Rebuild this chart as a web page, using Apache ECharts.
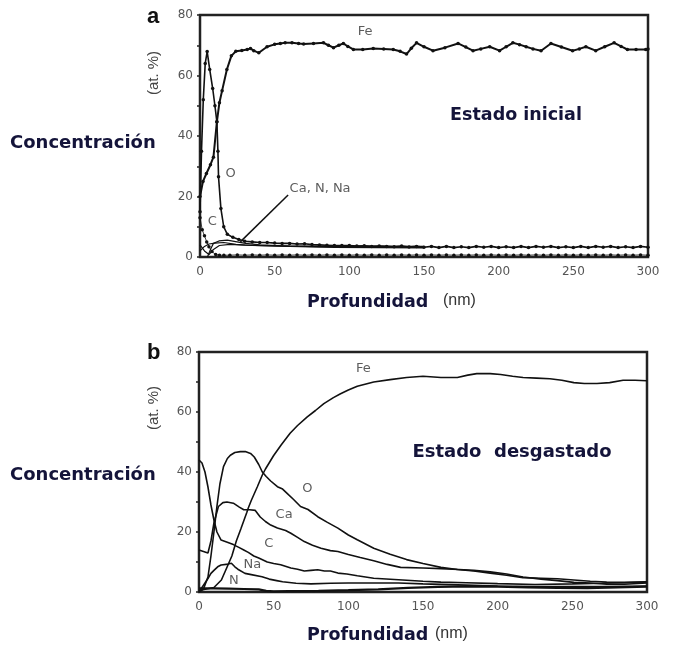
<!DOCTYPE html>
<html><head><meta charset="utf-8">
<script src="https://cdn.jsdelivr.net/npm/echarts@6/dist/echarts.min.js"></script>
<style>html,body{margin:0;padding:0;background:#fff}#c{width:673px;height:651px}</style>
</head><body><div id="c"></div>
<script>
// ---- Panel a : Estado inicial ----
const feA = [[0,20],[2,25],[4.3,27.6],[7,30.5],[9,33],[11.3,44.7],[13,51],[14.8,55],[18,62],[21,66.5],[24,68],[28,68.3],[31.6,68.6],[33.8,68.9],[36,68.2],[39.4,67.5],[44.9,69.5],[50,70.3],[53.8,70.6],[57,70.8],[61.6,70.8],[66,70.6],[69.4,70.4],[76,70.6],[82.7,70.8],[86,70],[89.4,69.2],[93,70],[96,70.6],[99,69.6],[102.7,68.6],[109,68.6],[116,68.9],[123,68.8],[129.4,68.6],[134,68],[138.3,67.1],[141.5,69],[145,70.8],[150,69.5],[156,68.2],[164,69.2],[172.8,70.6],[178,69.4],[182.8,68.2],[188,68.8],[194,69.5],[200.6,68.2],[205,69.5],[209.5,70.8],[214,70.2],[218.4,69.5],[223,68.8],[228.4,68.2],[235,70.6],[242,69.4],[249.5,68.2],[254,68.8],[258.4,69.5],[265,68.2],[271,69.5],[277.3,70.8],[282,69.6],[286.2,68.6],[292,68.6],[298.5,68.6],[300,68.8]];
const oA = [[0,15],[1,35],[2.2,52],[3.5,64],[4.8,67.9],[6.5,62],[8.5,55.7],[10,50],[11.3,44.7],[12,35],[12.4,26.5],[14,16],[15.9,10],[18.3,7.5],[22,6.5],[26,5.8],[30,5.2],[35,5],[40,4.8],[45,4.8],[50,4.6],[55,4.5],[60,4.5],[65,4.3],[70,4.4],[75,4.1],[80,4],[85,3.9],[90,3.8],[95,3.8],[100,3.8],[105,3.6],[110,3.7],[115,3.5],[120,3.6],[125,3.5],[130,3.4],[135,3.6],[140,3.3],[145,3.5],[150,3.2],[155,3.5],[160,3.1],[165,3.5],[170,3.1],[175,3.4],[180,3.1],[185,3.5],[190,3.2],[195,3.5],[200,3.1],[205,3.4],[210,3.1],[215,3.5],[220,3.1],[225,3.5],[230,3.2],[235,3.5],[240,3.1],[245,3.4],[250,3.1],[255,3.5],[260,3.1],[265,3.5],[270,3.2],[275,3.5],[280,3.1],[285,3.4],[290,3.1],[295,3.5],[300,3.2]];
const cA = [[0,13],[1.5,9],[3,7],[4.5,5],[6,3.4],[8,1.8],[10.5,0.8],[13,0.6],[16,0.6],[20,0.6],[25,0.7],[30,0.6],[35,0.7],[40,0.6],[45,0.7],[50,0.6],[55,0.7],[60,0.6],[65,0.7],[70,0.6],[75,0.7],[80,0.6],[85,0.7],[90,0.6],[95,0.7],[100,0.6],[105,0.7],[110,0.6],[115,0.7],[120,0.6],[125,0.7],[130,0.6],[135,0.7],[140,0.6],[145,0.7],[150,0.6],[155,0.7],[160,0.6],[165,0.7],[170,0.6],[175,0.7],[180,0.6],[185,0.7],[190,0.6],[195,0.7],[200,0.6],[205,0.7],[210,0.6],[215,0.7],[220,0.6],[225,0.7],[230,0.6],[235,0.7],[240,0.6],[245,0.7],[250,0.6],[255,0.7],[260,0.6],[265,0.7],[270,0.6],[275,0.7],[280,0.6],[285,0.7],[290,0.6],[295,0.7],[300,0.6]];
const caA = [[5,0],[7,2.5],[9,4.5],[12.7,5.3],[18.3,5.6],[23.8,5.1],[30.5,4.5],[40,4],[60,3.6],[80,3.4],[100,3.5],[120,3.3],[150,3.2]];
const nA = [[0,4],[3,2],[6,0.8],[9,2.5],[13,3.8],[20,4.2],[30,3.9],[50,3.7],[80,3.6],[110,3.6],[150,3.5]];
const naA = [[0,2],[3,3.5],[6,4.3],[10,4.6],[16,4.8],[24,4.2],[35,3.8],[60,3.5],[90,3.2],[120,3.1],[150,3]];
const pointerA = [[59,20.5],[27,5]];
const labelsA = [{name:'Fe',value:[110.5,74.5]},{name:'O',value:[20.5,27.6]},{name:'C',value:[8.2,11.6]}];
const labelCaNNa = {name:'Ca, N, Na',value:[60,22.6]};

// ---- Panel b : Estado desgastado ----
const feB = [[0,0.5],[5,1],[10,1.5],[15,4],[19.4,9],[22,12],[25,17],[28,21],[32,26.5],[33,28],[35,30.5],[39,35],[42.4,39],[44.5,41],[50,45.5],[55,49],[61,52.9],[66,55.5],[72.5,58.4],[78,60.5],[83.6,62.8],[90,64.8],[94.8,66.1],[100,67.3],[106,68.6],[117,70],[128,70.8],[139,71.5],[150,71.9],[162,71.5],[173,71.5],[180,72.3],[186,72.8],[195,72.8],[202,72.5],[210,71.9],[217,71.5],[226,71.3],[235,71.1],[243,70.6],[251,69.8],[258,69.5],[266.5,69.5],[275,69.8],[284,70.6],[292,70.6],[300,70.4]];
const oB = [[0,0],[3,1],[6,5],[8,12],[10,20],[12,28.5],[14,36],[16.4,41.8],[19,44.5],[21,45.6],[24,46.5],[27.7,46.8],[31,46.8],[34.5,46.2],[37,45],[40,42.5],[42.4,40],[45,38.5],[48,37],[52.5,35.1],[56,34.3],[59,32.9],[63,31],[68,28.5],[73,27.5],[79.5,25.1],[86,23.2],[93,21.3],[100,19],[106,17.4],[117,14.6],[128,12.6],[139,10.8],[150,9.5],[162,8.2],[173,7.5],[184,7],[195,6.3],[206,5.6],[217,4.8],[229,4.6],[240,4.4],[251,4],[262,3.6],[273,3.3],[285,3.2],[300,3.4]];
const caB = [[0,14],[3,13.5],[6,13],[8,17],[10,23],[13,28.5],[16,29.8],[18.7,30],[23,29.6],[27,28.3],[30,27.4],[34,27.4],[37.7,27.2],[41,25],[44.5,23.5],[48,22.3],[52.5,21.3],[58,20.5],[61.5,19.6],[66,18.2],[70.5,16.8],[76,15.6],[81.7,14.6],[88,13.8],[93,13.5],[100,12.5],[108,11.5],[117,10.4],[126,9.2],[135,8.2],[150,8],[162,7.8],[174,7.5],[184,7.2],[195,6.7],[206,6],[217,5],[229,4.3],[240,3.8],[251,3.2],[262,3],[273,2.6],[285,2.6],[300,3]];
const cB = [[0,44],[2,43],[4,40],[6,35],[8,29],[10,24],[12,20],[14.8,17.3],[19.4,16.5],[23,15.8],[27,14.8],[30,14],[33,13.2],[36.7,12],[40,11.3],[45.7,10],[50,9.5],[54.7,9.1],[61.5,8],[66,7.6],[70.5,7],[75,7.2],[79.5,7.4],[84,7],[88,7],[93,6.3],[99,6],[106,5.4],[117,4.6],[133.6,4.1],[150,3.6],[162,3.3],[179,3.1],[200,2.8],[225,2.5],[250,2.7],[270,2.9],[285,3.1],[300,3.3]];
const naB = [[0,0],[2,1.5],[4,3],[6,4.5],[8,6.2],[10,7.2],[12.5,8.4],[14.8,9],[19.4,9.3],[21.7,9.6],[24,8.4],[26,7.6],[30.8,6.2],[35,5.8],[42.2,5.1],[47,4.3],[52,3.8],[56,3.4],[65,2.9],[75,2.7],[88,2.9],[100,3],[115,3],[133.6,3],[150,2.7],[179,2.3],[200,2],[225,1.8],[250,1.8],[270,1.8],[300,2]];
const nB = [[0,1.2],[10,1.2],[20,1.1],[30,1],[40,0.9],[45,0.4],[50,0.2],[60,0.3],[80,0.4],[100,0.6],[120,0.9],[140,1.4],[160,1.7],[180,1.9],[200,1.8],[220,1.5],[240,1.4],[260,1.3],[280,1.5],[300,1.8]];
const labelsB = [{name:'Fe',value:[110,74.5]},{name:'O',value:[72.5,34.6]},{name:'Ca',value:[57,25.7]},{name:'C',value:[46.8,16.1]},{name:'Na',value:[35.7,9.1]},{name:'N',value:[23.4,3.9]}];

const xTicks = [0,50,100,150,200,250,300];
const yTicks = [0,20,40,60,80];

const chart = echarts.init(document.getElementById('c'), null, {renderer:'canvas'});
const tickFont = {fontFamily:'DejaVu Sans', fontSize:12, color:'#555'};
const navy = '#14143a';

function xAxis(gi){
  return {type:'value', gridIndex:gi, min:0, max:300, interval:50,
    axisLine:{show:true, lineStyle:{color:'#222', width:2}},
    axisTick:{show:false}, splitLine:{show:false},
    axisLabel:Object.assign({margin:9, formatter:v=>xTicks.includes(v)?String(v):''}, tickFont)};
}
function yAxis(gi){
  return {type:'value', gridIndex:gi, min:0, max:80, interval:10,
    axisLine:{show:true, lineStyle:{color:'#222', width:2}},
    axisTick:{show:true, length:3, lineStyle:{color:'#222', width:1.5}}, splitLine:{show:false},
    axisLabel:Object.assign({margin:7, formatter:v=>yTicks.includes(v)?String(v):''}, tickFont)};
}
function line(data, gi, opt){
  return Object.assign({type:'line', xAxisIndex:gi, yAxisIndex:gi, data:data, symbol:'none',
    smooth:false, silent:true, animation:false,
    lineStyle:{color:'#111', width:1.6}}, opt||{});
}
function dotted(data, gi, w){
  return line(data, gi, {symbol:'circle', symbolSize:3.5, showSymbol:true,
    itemStyle:{color:'#111'}, lineStyle:{color:'#111', width:w}});
}
function labels(data, gi){
  return {type:'scatter', xAxisIndex:gi, yAxisIndex:gi, data:data, symbolSize:0, silent:true, animation:false,
    label:{show:true, position:'inside', formatter:'{b}', fontFamily:'DejaVu Sans', fontSize:13, color:'#333'}};
}

const option = {
  animation:false,
  backgroundColor:'#fff',
  grid:[
    {left:200, top:15, width:448, height:242, show:true, borderColor:'#222', borderWidth:2.5, backgroundColor:'transparent'},
    {left:199, top:352, width:448, height:240, show:true, borderColor:'#222', borderWidth:2.5, backgroundColor:'transparent'}
  ],
  xAxis:[xAxis(0), xAxis(1)],
  yAxis:[yAxis(0), yAxis(1)],
  series:[
    dotted(feA,0,2), dotted(oA,0,1.6), dotted(cA,0,0.8),
    line(caA,0,{lineStyle:{color:'#111',width:1.2}}),
    line(nA,0,{lineStyle:{color:'#111',width:1.2}}),
    line(naA,0,{lineStyle:{color:'#111',width:1.2}}),
    line(pointerA,0,{lineStyle:{color:'#111',width:1.5}}),
    labels(labelsA,0),
    {type:'scatter', xAxisIndex:0, yAxisIndex:0, data:[labelCaNNa], symbolSize:0, silent:true,
      label:{show:true, position:'right', distance:0, formatter:'{b}', fontFamily:'DejaVu Sans', fontSize:13, color:'#333'}},
    line(feB,1), line(oB,1), line(caB,1), line(cB,1), line(naB,1),
    line(nB,1,{lineStyle:{color:'#111',width:2.2}}),
    labels(labelsB,1)
  ],
  graphic:[
    {type:'text', left:147, top:6, style:{text:'a', font:'bold 22px "Liberation Sans"', fill:'#111'}},
    {type:'text', left:147, top:342, style:{text:'b', font:'bold 22px "Liberation Sans"', fill:'#111'}},
    {type:'text', x:154, y:73, rotation:Math.PI/2, style:{text:'(at. %)', font:'15px "Liberation Sans"', fill:'#444', align:'center', verticalAlign:'middle'}},
    {type:'text', x:154, y:408, rotation:Math.PI/2, style:{text:'(at. %)', font:'15px "Liberation Sans"', fill:'#444', align:'center', verticalAlign:'middle'}},
    {type:'text', x:10, y:143, style:{text:'Concentración', font:'bold 18px "DejaVu Sans"', fill:navy, verticalAlign:'middle'}},
    {type:'text', x:10, y:475, style:{text:'Concentración', font:'bold 18px "DejaVu Sans"', fill:navy, verticalAlign:'middle'}},
    {type:'text', x:307, y:302, style:{text:'Profundidad', font:'bold 17.5px "DejaVu Sans"', fill:navy, verticalAlign:'middle'}},
    {type:'text', x:443, y:301, style:{text:'(nm)', font:'16px "Liberation Sans"', fill:'#333', verticalAlign:'middle'}},
    {type:'text', x:307, y:635, style:{text:'Profundidad', font:'bold 17.5px "DejaVu Sans"', fill:navy, verticalAlign:'middle'}},
    {type:'text', x:435, y:634, style:{text:'(nm)', font:'16px "Liberation Sans"', fill:'#333', verticalAlign:'middle'}},
    {type:'text', x:516, y:115, style:{text:'Estado inicial', font:'bold 17.5px "DejaVu Sans"', fill:navy, align:'center', verticalAlign:'middle'}},
    {type:'text', x:512, y:452, style:{text:'Estado  desgastado', font:'bold 18px "DejaVu Sans"', fill:navy, align:'center', verticalAlign:'middle'}}
  ]
};
chart.setOption(option);
</script></body></html>
